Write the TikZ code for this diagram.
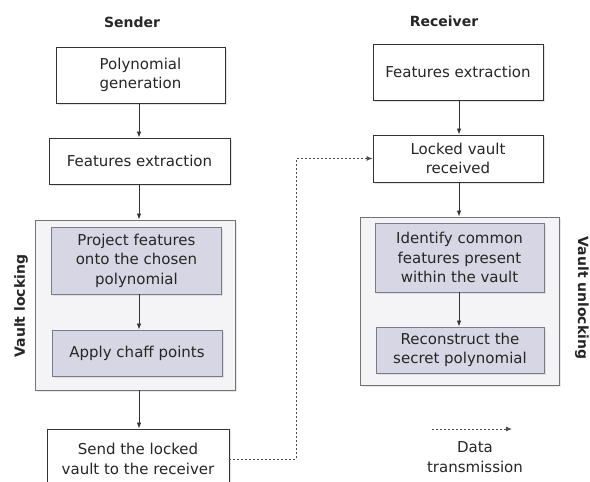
\documentclass[tikz,border=0pt]{standalone}
\usepackage{fontspec}
\setmainfont{DejaVu Sans}
\usetikzlibrary{arrows.meta,shadows}
\definecolor{txt}{HTML}{262626}
\definecolor{inner}{HTML}{D6D6E4}
\definecolor{innerline}{HTML}{7A7A88}
\definecolor{outer}{HTML}{F4F4F7}
\tikzset{
  every node/.style={text=txt},
  stepbox/.style={draw=black!80, fill=white, line width=0.9pt, align=center,
    inner sep=0pt, font=\fontsize{15}{19.5}\selectfont,
    drop shadow={shadow xshift=1.5pt, shadow yshift=-1.5pt, fill=black!18, opacity=0.6}},
  innerbox/.style={stepbox, draw=innerline, fill=inner},
  groupbox/.style={draw=black!55, fill=outer, line width=0.9pt, inner sep=0pt,
    drop shadow={shadow xshift=1.5pt, shadow yshift=-1.5pt, fill=black!15, opacity=0.6}},
  heading/.style={font=\fontsize{14}{17}\selectfont\bfseries},
  flow/.style={draw=black!80, line width=0.8pt, -{Latex[length=6pt,width=4.5pt]}},
  transfer/.style={draw=black!70, line width=0.9pt, dash pattern=on 2pt off 2pt,
    -{Latex[length=6pt,width=5pt]}},
}
\begin{document}
\begin{tikzpicture}[x=1pt,y=-1pt]
\useasboundingbox (0,0) rectangle (590,482);
\clip (0,0) rectangle (590,482);
\fill[white] (0,0) rectangle (590,482);

% Column headings
\node[heading] (sender) at (132,22) {Sender};
\node[heading] (receiver) at (444,21) {Receiver};

% Sender side
\node[stepbox, minimum width=169pt, minimum height=56pt] (poly) at (140.5,75)
  {Polynomial\\generation};
\node[stepbox, minimum width=181pt, minimum height=46pt] (fe1) at (139.5,161)
  {Features extraction};
\node[groupbox, minimum width=200pt, minimum height=170pt] (lock) at (135,305) {};
\node[innerbox, minimum width=170pt, minimum height=67pt] (proj) at (136.5,260.5)
  {Project features\\onto the chosen\\polynomial};
\node[innerbox, minimum width=170pt, minimum height=46pt] (chaff) at (137,353)
  {Apply chaff points};
\node[stepbox, minimum width=182pt, minimum height=60pt] (send) at (138,459)
  {Send the locked\\vault to the receiver};
\node[heading, rotate=90] (locklbl) at (21,306) {Vault locking};

% Receiver side
\node[stepbox, minimum width=170pt, minimum height=56pt] (fe2) at (458,72)
  {Features extraction};
\node[stepbox, minimum width=170pt, minimum height=47pt] (lvr) at (458,158.5)
  {Locked vault\\received};
\node[groupbox, minimum width=199pt, minimum height=168pt] (unlock) at (459.5,301) {};
\node[innerbox, minimum width=169pt, minimum height=69pt] (ident) at (459.5,257.5)
  {Identify common\\features present\\within the vault};
\node[innerbox, minimum width=168pt, minimum height=46pt] (recon) at (460,350)
  {Reconstruct the\\secret polynomial};
\node[heading, rotate=-90] (unlocklbl) at (582,298) {Vault unlocking};

% Vertical axes carrying the flow arrows of each side
\coordinate (axisS) at (139,0);
\coordinate (axisR) at (459,0);

% Flow within each side
\draw[flow] (poly.south -| axisS) -- (fe1.north -| axisS);
\draw[flow] (fe1.south -| axisS) -- (lock.north -| axisS);
\draw[flow] (proj.south -| axisS) -- (chaff.north -| axisS);
\draw[flow] (lock.south -| axisS) -- (send.north -| axisS);
\draw[flow] (fe2.south -| axisR) -- (lvr.north -| axisR);
\draw[flow] (lvr.south -| axisR) -- (unlock.north -| axisR);
\draw[flow] (ident.south -| axisR) -- (recon.north -| axisR);

% Transfer of the locked vault
\coordinate (bend) at (296,0);
\draw[transfer] (send.east) -- (send.east -| bend) -- (bend |- lvr.west) -- (lvr.west);

% Legend
\coordinate (lega) at (432,429);
\coordinate (legb) at (512,429);
\draw[transfer] (lega) -- (legb);
\node[align=center, font=\fontsize{15}{19.5}\selectfont] (legtxt) at (475,457)
  {Data\\transmission};
\end{tikzpicture}
\end{document}
